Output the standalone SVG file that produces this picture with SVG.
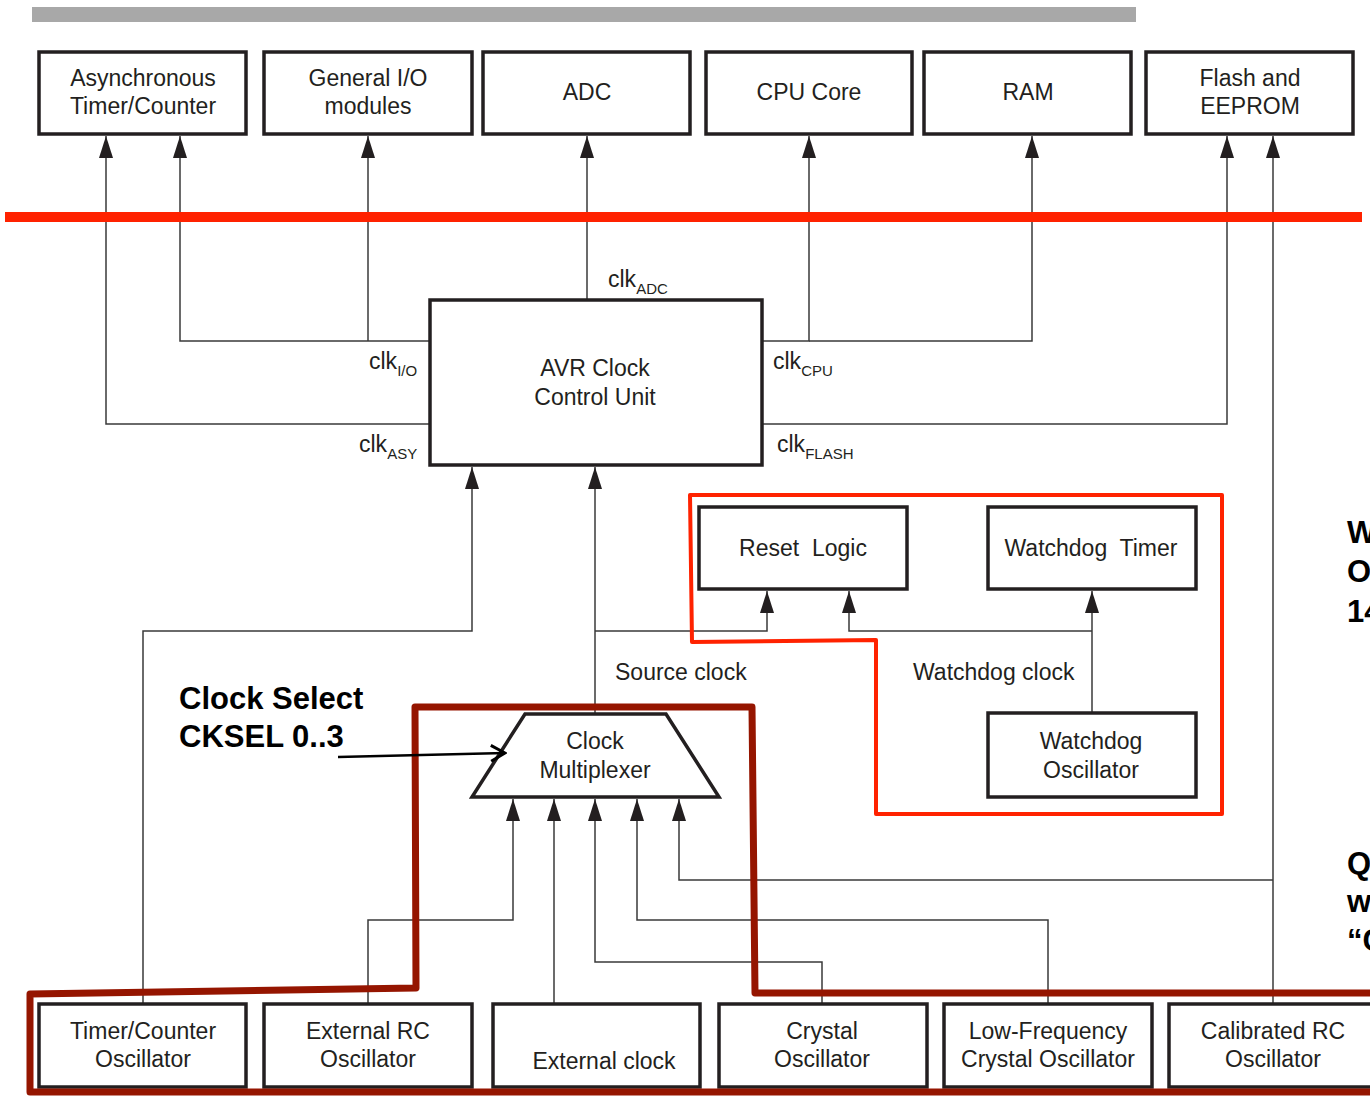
<svg xmlns="http://www.w3.org/2000/svg" width="1370" height="1096" viewBox="0 0 1370 1096">
<style>
.box{fill:#fff;stroke:#231f20;stroke-width:3.5}
.t{font-family:"Liberation Sans",Arial,sans-serif;font-size:23px;fill:#231f20;text-anchor:middle}
.l{font-family:"Liberation Sans",Arial,sans-serif;font-size:23px;fill:#231f20}
.s{font-size:15px}
.c{fill:none;stroke:#3a3a3a;stroke-width:1.5;marker-end:url(#ah)}
.b{font-family:"Liberation Sans",Arial,sans-serif;font-size:31px;font-weight:bold;fill:#000}
</style>
<defs>
<marker id="ah" viewBox="0 0 22 14" refX="22" refY="7" markerWidth="22" markerHeight="14" markerUnits="userSpaceOnUse" orient="auto">
<path d="M0,0 L22,7 L0,14 z" fill="#231f20"/>
</marker>
<marker id="oh" viewBox="0 0 20 20" refX="18" refY="10" markerWidth="20" markerHeight="20" markerUnits="userSpaceOnUse" orient="auto">
<path d="M4,2 L18,10 L4,18" fill="none" stroke="#000" stroke-width="3"/>
</marker>
</defs>
<rect x="0" y="0" width="1370" height="1096" fill="#fff"/>
<rect x="32" y="7" width="1104" height="15" fill="#a8a8a8"/>

<g id="connectors">
<polyline class="c" points="430,424 106,424 106,136"/>
<polyline class="c" points="430,341 180,341 180,136"/>
<polyline class="c" points="368,341 368,136"/>
<polyline class="c" points="587,300 587,136"/>
<polyline class="c" points="762,341 809,341 809,136"/>
<polyline class="c" points="809,341 1032,341 1032,136"/>
<polyline class="c" points="762,424 1227,424 1227,136"/>
<polyline class="c" points="1273,1003 1273,136"/>
<polyline class="c" points="143,1003 143,631 472,631 472,467"/>
<polyline class="c" points="595,713 595,467"/>
<polyline class="c" points="595,631 767,631 767,591"/>
<polyline class="c" points="1092,631 849,631 849,591"/>
<polyline class="c" points="1092,713 1092,591"/>
<polyline class="c" points="368,1003 368,920 513,920 513,799"/>
<polyline class="c" points="554,1003 554,799"/>
<polyline class="c" points="822,1003 822,962 595,962 595,799"/>
<polyline class="c" points="1048,1003 1048,920 637,920 637,799"/>
<polyline class="c" points="1273,880 679,880 679,799"/>
</g>

<g id="n-async"><rect class="box" x="39" y="52" width="207" height="82"/><text class="t" x="143" y="86">Asynchronous</text><text class="t" x="143" y="114">Timer/Counter</text></g>
<g id="n-gio"><rect class="box" x="264" y="52" width="208" height="82"/><text class="t" x="368" y="86">General I/O</text><text class="t" x="368" y="114">modules</text></g>
<g id="n-adc"><rect class="box" x="483" y="52" width="207" height="82"/><text class="t" x="587" y="100">ADC</text></g>
<g id="n-cpu"><rect class="box" x="706" y="52" width="206" height="82"/><text class="t" x="809" y="100">CPU Core</text></g>
<g id="n-ram"><rect class="box" x="924" y="52" width="207" height="82"/><text class="t" x="1028" y="100">RAM</text></g>
<g id="n-flash"><rect class="box" x="1146" y="52" width="207" height="82"/><text class="t" x="1250" y="86">Flash and</text><text class="t" x="1250" y="114">EEPROM</text></g>

<g id="n-avr"><rect class="box" x="430" y="300" width="332" height="165"/><text class="t" x="595" y="376">AVR Clock</text><text class="t" x="595" y="405">Control Unit</text></g>

<g id="labels">
<text class="l" x="608" y="287">clk<tspan class="s" dy="7">ADC</tspan></text>
<text class="l" x="369" y="369">clk<tspan class="s" dy="7">I/O</tspan></text>
<text class="l" x="359" y="452">clk<tspan class="s" dy="7">ASY</tspan></text>
<text class="l" x="773" y="369">clk<tspan class="s" dy="7">CPU</tspan></text>
<text class="l" x="777" y="452">clk<tspan class="s" dy="7">FLASH</tspan></text>
<text class="l" x="615" y="680">Source clock</text>
<text class="l" x="913" y="680">Watchdog clock</text>
</g>

<g id="n-reset"><rect class="box" x="699" y="507" width="208" height="82"/><text class="t" x="803" y="556" xml:space="preserve">Reset  Logic</text></g>
<g id="n-wdt"><rect class="box" x="988" y="507" width="208" height="82"/><text class="t" x="1091" y="556" xml:space="preserve">Watchdog  Timer</text></g>
<g id="n-wdo"><rect class="box" x="988" y="713" width="208" height="84"/><text class="t" x="1091" y="749">Watchdog</text><text class="t" x="1091" y="778">Oscillator</text></g>

<g id="n-mux"><path class="box" d="M525,714 L666,714 L719,797 L472,797 Z" stroke-width="3"/><text class="t" x="595" y="749">Clock</text><text class="t" x="595" y="778">Multiplexer</text></g>

<g id="n-tco"><rect class="box" x="39" y="1004" width="207" height="83"/><text class="t" x="143" y="1039">Timer/Counter</text><text class="t" x="143" y="1067">Oscillator</text></g>
<g id="n-erc"><rect class="box" x="264" y="1004" width="208" height="83"/><text class="t" x="368" y="1039">External RC</text><text class="t" x="368" y="1067">Oscillator</text></g>
<g id="n-ext"><rect class="box" x="493" y="1004" width="207" height="83"/><text class="t" x="604" y="1069">External clock</text></g>
<g id="n-xtal"><rect class="box" x="719" y="1004" width="208" height="83"/><text class="t" x="822" y="1039">Crystal</text><text class="t" x="822" y="1067">Oscillator</text></g>
<g id="n-lfx"><rect class="box" x="944" y="1004" width="208" height="83"/><text class="t" x="1048" y="1039">Low-Frequency</text><text class="t" x="1048" y="1067">Crystal Oscillator</text></g>
<g id="n-crc"><rect class="box" x="1169" y="1004" width="208" height="83"/><text class="t" x="1273" y="1039">Calibrated RC</text><text class="t" x="1273" y="1067">Oscillator</text></g>

<g id="overlays">
<line x1="5" y1="217" x2="1362" y2="217" stroke="#ff2200" stroke-width="10"/>
<path d="M690,495 L1222,495 L1222,814 L876,814 L876,640 L692,642 Z" fill="none" stroke="#ff2200" stroke-width="4" stroke-linejoin="round"/>
<path d="M1380,1092 L30,1092 L30,994 L416,988 L415,707 L752,707 L755,993 L1380,993" fill="none" stroke="#951500" stroke-width="7" stroke-linejoin="round"/>
</g>

<g id="annotations">
<text class="b" x="179" y="709">Clock Select</text>
<text class="b" x="179" y="747">CKSEL 0..3</text>
<line x1="338" y1="757" x2="505" y2="753" stroke="#000" stroke-width="2.5" marker-end="url(#oh)"/>
<text class="b" x="1347" y="543">W</text>
<text class="b" x="1347" y="582">O</text>
<text class="b" x="1347" y="622">14</text>
<text class="b" x="1347" y="874">Q</text>
<text class="b" x="1347" y="912">w</text>
<text class="b" x="1347" y="951">“C</text>
</g>
</svg>
